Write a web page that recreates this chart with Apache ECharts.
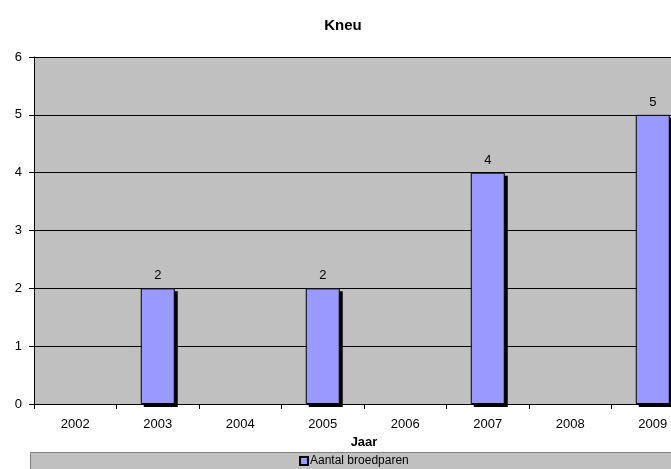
<!DOCTYPE html>
<html>
<head>
<meta charset="utf-8">
<script src="https://cdn.jsdelivr.net/npm/echarts@6/dist/echarts.min.js"></script>
<style>
  html, body { margin: 0; padding: 0; background: #fff; }
  #chart { width: 671px; height: 469px; }
</style>
</head>
<body>
<div id="chart"></div>
<script>
var years = ['2002', '2003', '2004', '2005', '2006', '2007', '2008', '2009'];
var broedparen = [null, 2, null, 2, null, 4, null, 5];
var yTicks = [0, 1, 2, 3, 4, 5, 6];

var font = 'Liberation Sans, Arial, sans-serif';
var chart = echarts.init(document.getElementById('chart'));

// black drop shadow behind each bar, offset 3px right and down
function renderShadow(params, api) {
    var v = api.value(1);
    if (v == null || isNaN(v)) return;
    var top = api.coord([api.value(0), v]);
    var base = api.coord([api.value(0), 0]);
    var w = 34;
    return {
        type: 'rect',
        shape: { x: top[0] - w / 2 + 3, y: top[1] + 3, width: w, height: base[1] - top[1] },
        style: { fill: '#000' }
    };
}

var option = {
    animation: false,
    backgroundColor: '#fff',
    textStyle: { fontFamily: font },
    title: {
        text: 'Kneu',
        left: 338,
        top: 13,
        textAlign: 'center',
        textStyle: { fontSize: 15, fontWeight: 'bold', color: '#000', fontFamily: font }
    },
    graphic: [{
        type: 'rect',
        z: -1,
        shape: { x: 30.5, y: 452.5, width: 680, height: 30 },
        style: { fill: '#C0C0C0', stroke: '#808080', lineWidth: 1 }
    }],
    legend: {
        left: 299,
        top: 455,
        itemWidth: 8,
        itemHeight: 8,
        itemGap: 2,
        padding: 0,
        textStyle: { fontSize: 12, color: '#000', fontFamily: font, padding: [0, 0, 0, -3] },
        data: [{ name: 'Aantal broedparen', icon: 'rect' }]
    },
    grid: {
        left: 34,
        width: 660,
        top: 57,
        bottom: 65,
        outerBoundsMode: 'none',
        containLabel: false,
        show: true,
        backgroundColor: '#C0C0C0',
        borderWidth: 0
    },
    xAxis: {
        type: 'category',
        data: years,
        boundaryGap: true,
        name: 'Jaar',
        nameLocation: 'middle',
        nameGap: 31,
        nameTextStyle: { fontSize: 13, fontWeight: 'bold', color: '#000', fontFamily: font },
        axisLine: { lineStyle: { color: '#000', width: 1 } },
        axisTick: { show: true, length: 5, lineStyle: { color: '#000' } },
        axisLabel: { color: '#000', fontSize: 13, margin: 14, fontFamily: font }
    },
    yAxis: {
        type: 'value',
        min: yTicks[0],
        max: yTicks[yTicks.length - 1],
        interval: 1,
        axisLine: { show: true, lineStyle: { color: '#000', width: 1 } },
        axisTick: { show: true, length: 5, lineStyle: { color: '#000' } },
        axisLabel: { color: '#000', fontSize: 13, margin: 12, fontFamily: font },
        splitLine: { show: true, lineStyle: { color: '#000', width: 1 } }
    },
    series: [{
        name: 'shadow',
        type: 'custom',
        z: 1,
        renderItem: renderShadow,
        encode: { x: 0, y: 1 },
        data: years.map(function (y, i) { return [i, broedparen[i]]; }),
        silent: true
    }, {
        name: 'Aantal broedparen',
        type: 'bar',
        z: 2,
        data: broedparen,
        barWidth: 34,
        itemStyle: {
            color: '#9999FF',
            borderColor: '#000',
            borderWidth: 1
        },
        label: {
            show: true,
            position: 'top',
            distance: 6,
            color: '#000',
            fontSize: 13,
            fontFamily: font
        }
    }]
};
chart.setOption(option);
</script>
</body>
</html>
